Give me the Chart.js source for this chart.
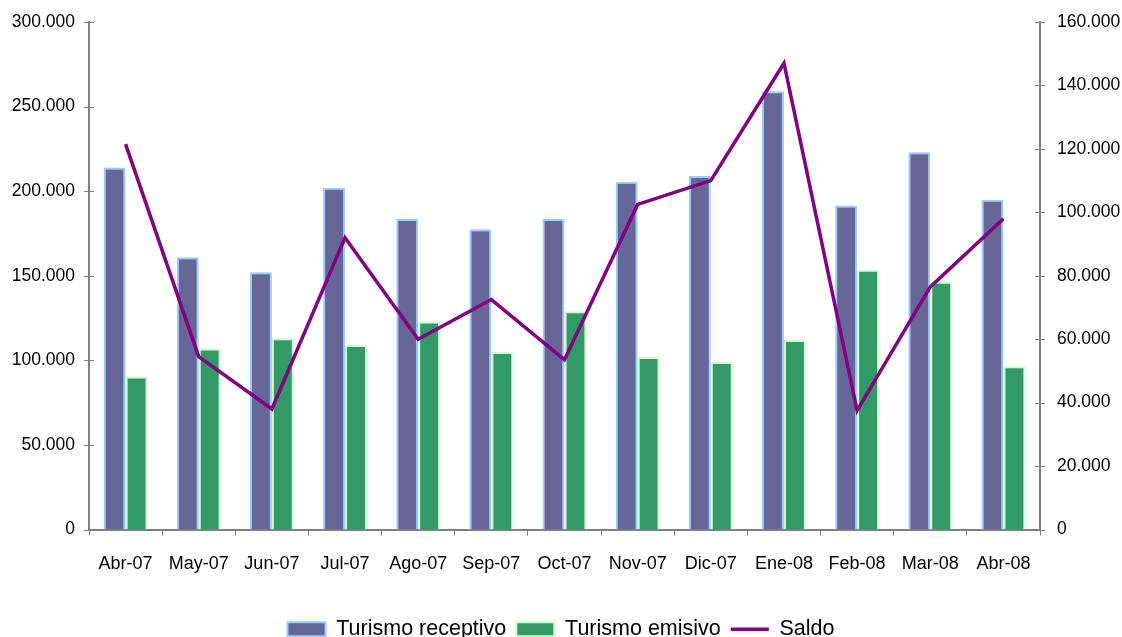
<!doctype html>
<html>
  <head>
    <title>Turismo</title>
    <style>
      html, body { margin: 0; padding: 0; background: #fff; }
      #wrap { width: 1122px; height: 637px; }
    </style>
  </head>
  <body>
    <div id="wrap">
      <canvas id="myChart" width="1122" height="637"></canvas>
    </div>
  </body>
  <script src="https://cdn.jsdelivr.net/npm/chart.js"></script>
  <script>
    const months = ['Abr-07', 'May-07', 'Jun-07', 'Jul-07', 'Ago-07', 'Sep-07', 'Oct-07',
                    'Nov-07', 'Dic-07', 'Ene-08', 'Feb-08', 'Mar-08', 'Abr-08'];
    const receptivo = [214000, 161000, 152000, 202000, 183500, 177500, 183500,
                       205500, 209000, 259000, 191500, 223000, 195000];
    const emisivo = [90500, 107000, 113000, 109000, 123000, 105000, 129000,
                     102000, 99000, 112000, 153500, 146500, 96500];
    const saldo = [121500, 54500, 38000, 92000, 60000, 72500, 53500,
                   102500, 110000, 147000, 37500, 76500, 98000];

    const fmt = v => v === 0 ? '0' : v.toLocaleString('de-DE');
    const FONT = "'Liberation Sans', Arial, sans-serif";

    // tick marks that cross the y axes on both sides
    const crossTicks = {
      id: 'crossTicks',
      afterDraw(chart) {
        const c = chart.ctx;
        c.save();
        c.strokeStyle = '#808080';
        c.lineWidth = 1;
        ['y', 'y1'].forEach(id => {
          const s = chart.scales[id];
          const x = id === 'y' ? s.right : s.left;
          s.ticks.forEach(t => {
            const py = Math.round(s.getPixelForValue(t.value)) + 0.5;
            c.beginPath();
            c.moveTo(x - 5, py);
            c.lineTo(x + 5, py);
            c.stroke();
          });
        });
        c.restore();
      }
    };

    const ctx = document.getElementById('myChart');
    const chart = new Chart(ctx, {
      type: 'bar',
      data: {
        labels: months,
        datasets: [
          {
            label: 'Turismo receptivo',
            data: receptivo,
            backgroundColor: '#666699',
            borderColor: '#99CCFF',
            borderWidth: 2,
            yAxisID: 'y',
            order: 1,
            pointStyle: 'rect'
          },
          {
            label: 'Turismo emisivo',
            data: emisivo,
            backgroundColor: '#339966',
            borderColor: '#CCFFCC',
            borderWidth: 2,
            yAxisID: 'y',
            order: 1,
            pointStyle: 'rect'
          },
          {
            type: 'line',
            label: 'Saldo',
            data: saldo,
            borderColor: '#800080',
            backgroundColor: '#800080',
            borderWidth: 3.5,
            pointRadius: 0,
            pointBorderWidth: 3.5,
            pointStyle: 'line',
            tension: 0,
            yAxisID: 'y1',
            order: 0
          }
        ]
      },
      options: {
        responsive: false,
        animation: false,
        categoryPercentage: 0.6,
        barPercentage: 1.0,
        layout: { padding: { top: 22, left: 0, right: 0, bottom: -13 } },
        plugins: {
          tooltip: { enabled: false },
          legend: {
            position: 'bottom',
            labels: {
              font: { family: FONT, size: 21.5 },
              color: '#000',
              usePointStyle: true,
              pointStyleWidth: 38,
              boxHeight: 14,
              padding: 10,
              sort: (a, b) => a.datasetIndex - b.datasetIndex
            }
          }
        },
        scales: {
          x: {
            offset: true,
            grid: { offset: true, drawOnChartArea: false, tickLength: 6, color: '#808080' },
            border: { color: '#808080', width: 2 },
            ticks: { font: { family: FONT, size: 18 }, color: '#000', maxRotation: 0, padding: 18 },
            afterFit: s => { s.height = 79; }
          },
          y: {
            position: 'left',
            min: 0,
            max: 300000,
            grid: { display: false },
            border: { color: '#808080', width: 2 },
            ticks: { stepSize: 50000, font: { family: FONT, size: 17.5 }, color: '#000', padding: 6, callback: fmt },
            afterFit: s => { s.width = 89; }
          },
          y1: {
            position: 'right',
            min: 0,
            max: 160000,
            grid: { display: false },
            border: { color: '#808080', width: 2 },
            ticks: { stepSize: 20000, font: { family: FONT, size: 17.5 }, color: '#000', padding: 9, callback: fmt },
            afterFit: s => { s.width = 82; }
          }
        }
      },
      plugins: [crossTicks]
    });
  </script>
</html>
